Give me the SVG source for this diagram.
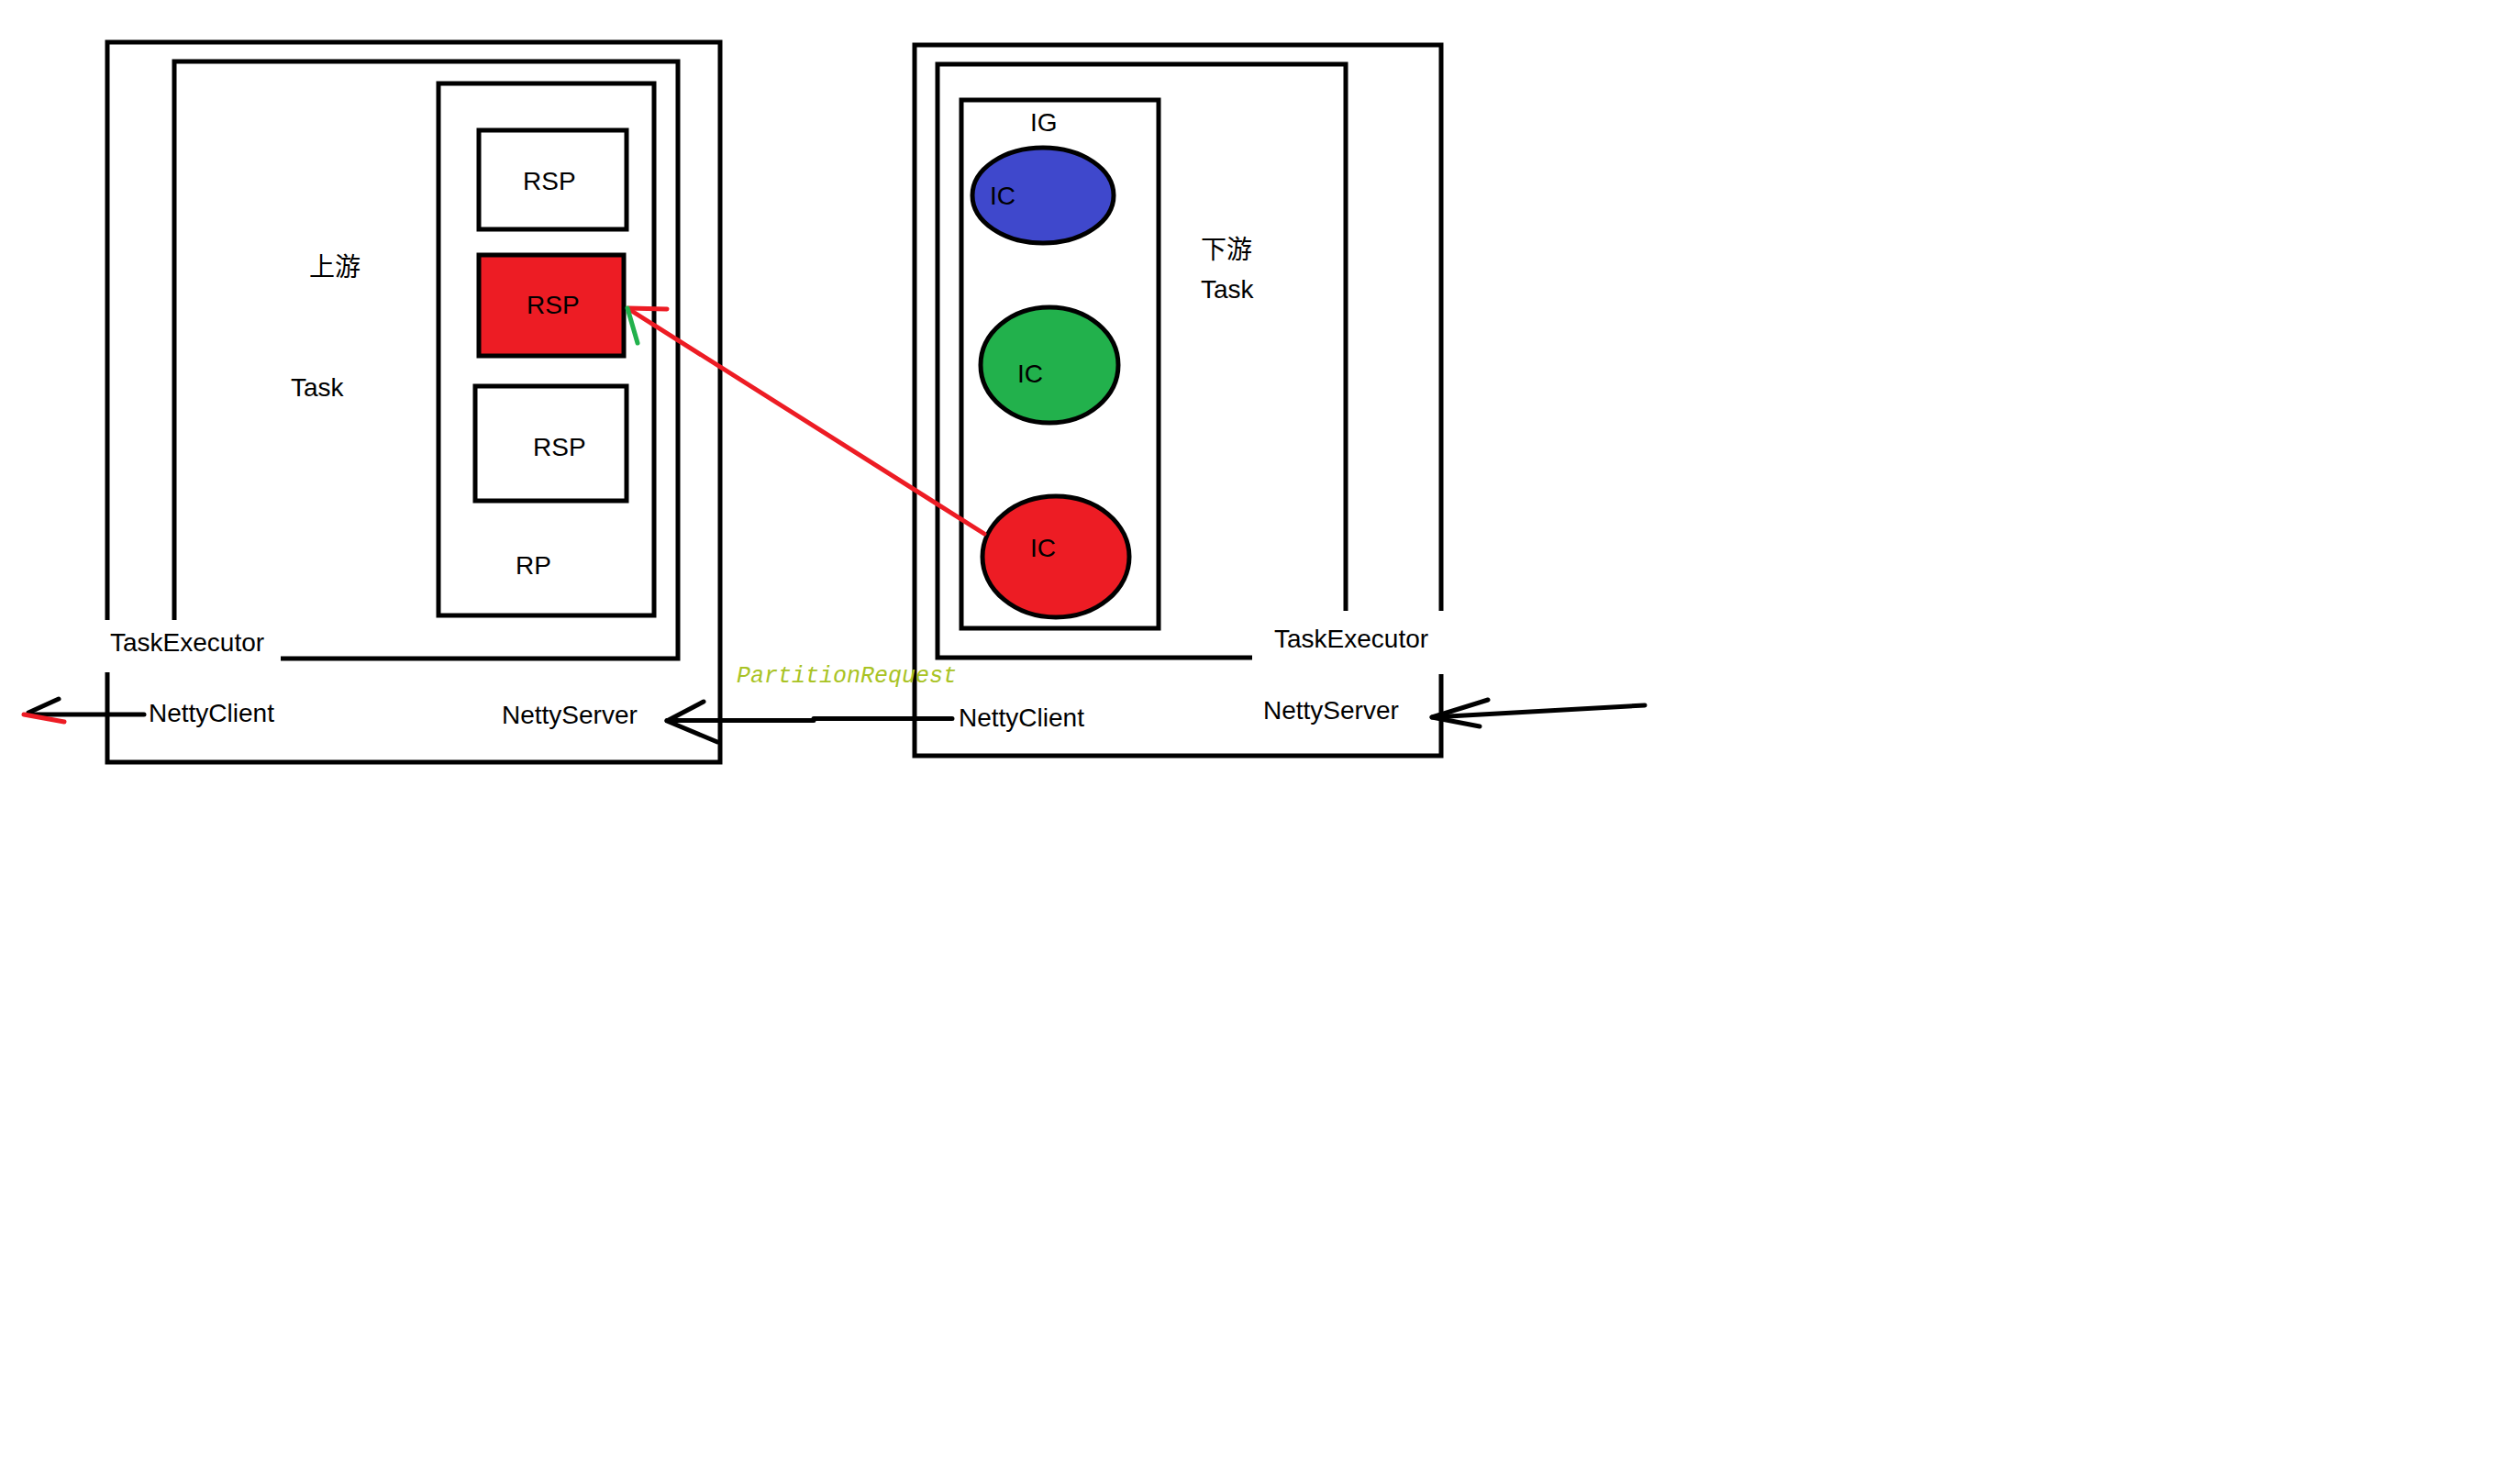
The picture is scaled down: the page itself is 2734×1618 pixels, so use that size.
<svg xmlns="http://www.w3.org/2000/svg" width="2734" height="1618" viewBox="0 0 2734 1618">
<style>
.ln{fill:none;stroke:#000;stroke-width:5;stroke-linecap:butt;stroke-linejoin:miter}
.redbox{fill:#ed1c24;stroke:#000;stroke-width:5}
.t{font-family:"Liberation Sans","Noto Sans CJK SC",sans-serif;font-size:28px;fill:#000}
.ell{stroke:#000;stroke-width:5}
.red{fill:none;stroke:#ed1c24;stroke-width:5;stroke-linecap:round}
.grn{fill:none;stroke:#22b14c;stroke-width:5;stroke-linecap:round}
.arr{fill:none;stroke:#000;stroke-width:5;stroke-linecap:round;stroke-linejoin:round}
.pr{font-family:"Liberation Mono","DejaVu Sans Mono",monospace;font-style:italic;font-size:25px;fill:#a9c324}
</style>
<rect width="2734" height="1618" fill="#fff"/>
<g id="upstream-taskexecutor">
<path class="ln" d="M117,676 V46 H785 V831 H117 V733"/>
<text class="t" x="120" y="710">TaskExecutor</text>
<text class="t" x="162" y="787">NettyClient</text>
<text class="t" x="547" y="789">NettyServer</text>
</g>
<g id="upstream-task">
<path class="ln" d="M190,676 V67 H739 V718 H306"/>
<text class="t" x="337" y="301">上游</text>
<text class="t" x="317" y="432">Task</text>
</g>
<g id="rp">
<rect class="ln" x="478" y="91" width="235" height="580"/>
<text class="t" x="562" y="626">RP</text>
</g>
<g id="rsp1">
<rect class="ln" x="522" y="142" width="161" height="108"/>
<text class="t" x="570" y="207">RSP</text>
</g>
<g id="rsp2">
<rect class="redbox" x="522" y="278" width="158" height="110"/>
<text class="t" x="574" y="342">RSP</text>
</g>
<g id="rsp3">
<rect class="ln" x="518" y="421" width="165" height="125"/>
<text class="t" x="581" y="497">RSP</text>
</g>
<g id="downstream-taskexecutor">
<path class="ln" d="M1571,666 V49 H997 V824 H1571 V735"/>
<text class="t" x="1389" y="706">TaskExecutor</text>
<text class="t" x="1045" y="792">NettyClient</text>
<text class="t" x="1377" y="784">NettyServer</text>
</g>
<g id="downstream-task">
<path class="ln" d="M1467,666 V70 H1022 V717 H1365"/>
<text class="t" x="1309" y="282">下游</text>
<text class="t" x="1309" y="325">Task</text>
</g>
<g id="ig">
<rect class="ln" x="1048" y="109" width="215" height="576"/>
<text class="t" x="1123" y="143">IG</text>
</g>
<g id="ic1">
<ellipse class="ell" cx="1137" cy="213" rx="77" ry="52" fill="#3f48cc"/>
<text class="t" x="1079" y="223">IC</text>
</g>
<g id="ic2">
<ellipse class="ell" cx="1144" cy="398" rx="75" ry="63" fill="#22b14c"/>
<text class="t" x="1109" y="417">IC</text>
</g>
<g id="ic3">
<ellipse class="ell" cx="1151" cy="607" rx="80" ry="66" fill="#ed1c24"/>
<text class="t" x="1123" y="607">IC</text>
</g>
<g id="connectors">
<path class="red" d="M1073,582 L687,338"/>
<path class="red" d="M685,336 L727,337"/>
<path class="grn" d="M684,336 L695,374"/>
<path class="arr" d="M1038,783.5 H887 V785.5 H727"/>
<path class="arr" d="M767,765 L727,786 L782,809"/>
<text class="pr" x="803" y="744">PartitionRequest</text>
<path class="arr" d="M157,779 H31"/>
<path class="arr" d="M64,762 L31,777"/>
<path class="red" d="M26,779 L70,787"/>
<path class="arr" d="M1793,769 L1561,782"/>
<path class="arr" d="M1622,763 L1561,782 L1613,792"/>
</g>
</svg>
